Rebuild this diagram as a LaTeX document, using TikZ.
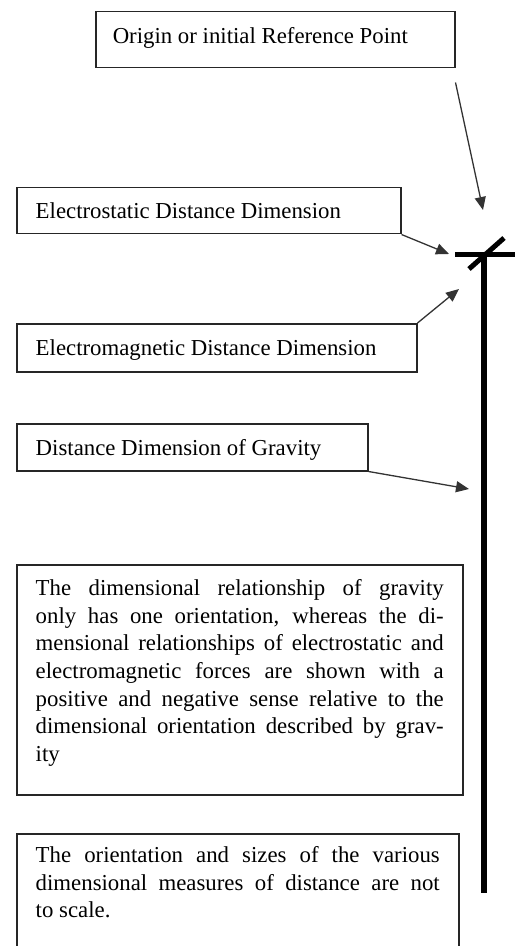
\documentclass[tikz,border=0pt]{standalone}
\usepackage{fontspec}
\setmainfont{Liberation Serif}
\usepackage{tikz}
\usetikzlibrary{arrows.meta}
\usepackage{xcolor}

\begin{document}
\begin{tikzpicture}[x=0.5pt, y=-0.5pt,
    box/.style={draw=black!85, line width=0.75pt, anchor=north west, inner xsep=9.5pt, inner ysep=0pt,
                align=justify, font=\fontsize{11.4}{13.8}\selectfont},
    arr/.style={draw=black!80, line width=0.65pt, -{Triangle[length=6.5pt,width=5.5pt]}},
    axis/.style={line width=#1, line cap=butt}]
  \useasboundingbox (0,0) rectangle (515,946);

  \node[box, inner xsep=8.5pt, text width=162.5pt, text height=16pt, text depth=12pt] (origin) at (95,11)
    {Origin or initial Reference Point};
  \node[box, text width=173pt, text height=15.5pt, text depth=7.5pt] (estat) at (16,187)
    {Electrostatic Distance Dimension};
  \node[box, text width=181pt, text height=16pt, text depth=8pt] (emag) at (16,323)
    {Electromagnetic Distance Dimension};
  \node[box, text width=156.5pt, text height=16pt, text depth=7.5pt] (grav) at (16,423)
    {Distance Dimension of Gravity};
  \node[box, text width=204pt, text height=15.5pt, text depth=99.5pt] (note) at (16,564)
    {\tolerance=10000 The dimensional relationship of gravity\linebreak
     only has one orientation, whereas the di-\linebreak
     mensional relationships of electrostatic and\linebreak
     electromagnetic forces are shown with a\linebreak
     positive and negative sense relative to the\linebreak
     dimensional orientation described by grav-\linebreak
     ity};
  \node[box, text width=202pt, text height=14.5pt, text depth=44pt] (scale) at (16,833)
    {\tolerance=10000 The orientation and sizes of the various\linebreak
     dimensional measures of distance are not\linebreak
     to scale.};

  % axis of gravity with the two crossing bars
  \draw[axis=3pt] (484,255) -- (484,893);
  \draw[axis=2.5pt] (455,255) -- (515,255);
  \draw[axis=2.5pt] (469,269) -- (504,238);

  \coordinate (tipO) at (483,210);
  \coordinate (tipES) at (449,254);
  \coordinate (tipEM) at (459,289);
  \coordinate (tipG) at (469,489);

  \draw[arr] ([yshift=-7pt]origin.south east) -- (tipO);
  \draw[arr] (estat.south east) -- (tipES);
  \draw[arr] (emag.north east) -- (tipEM);
  \draw[arr] (grav.south east) -- (tipG);
\end{tikzpicture}
\end{document}
